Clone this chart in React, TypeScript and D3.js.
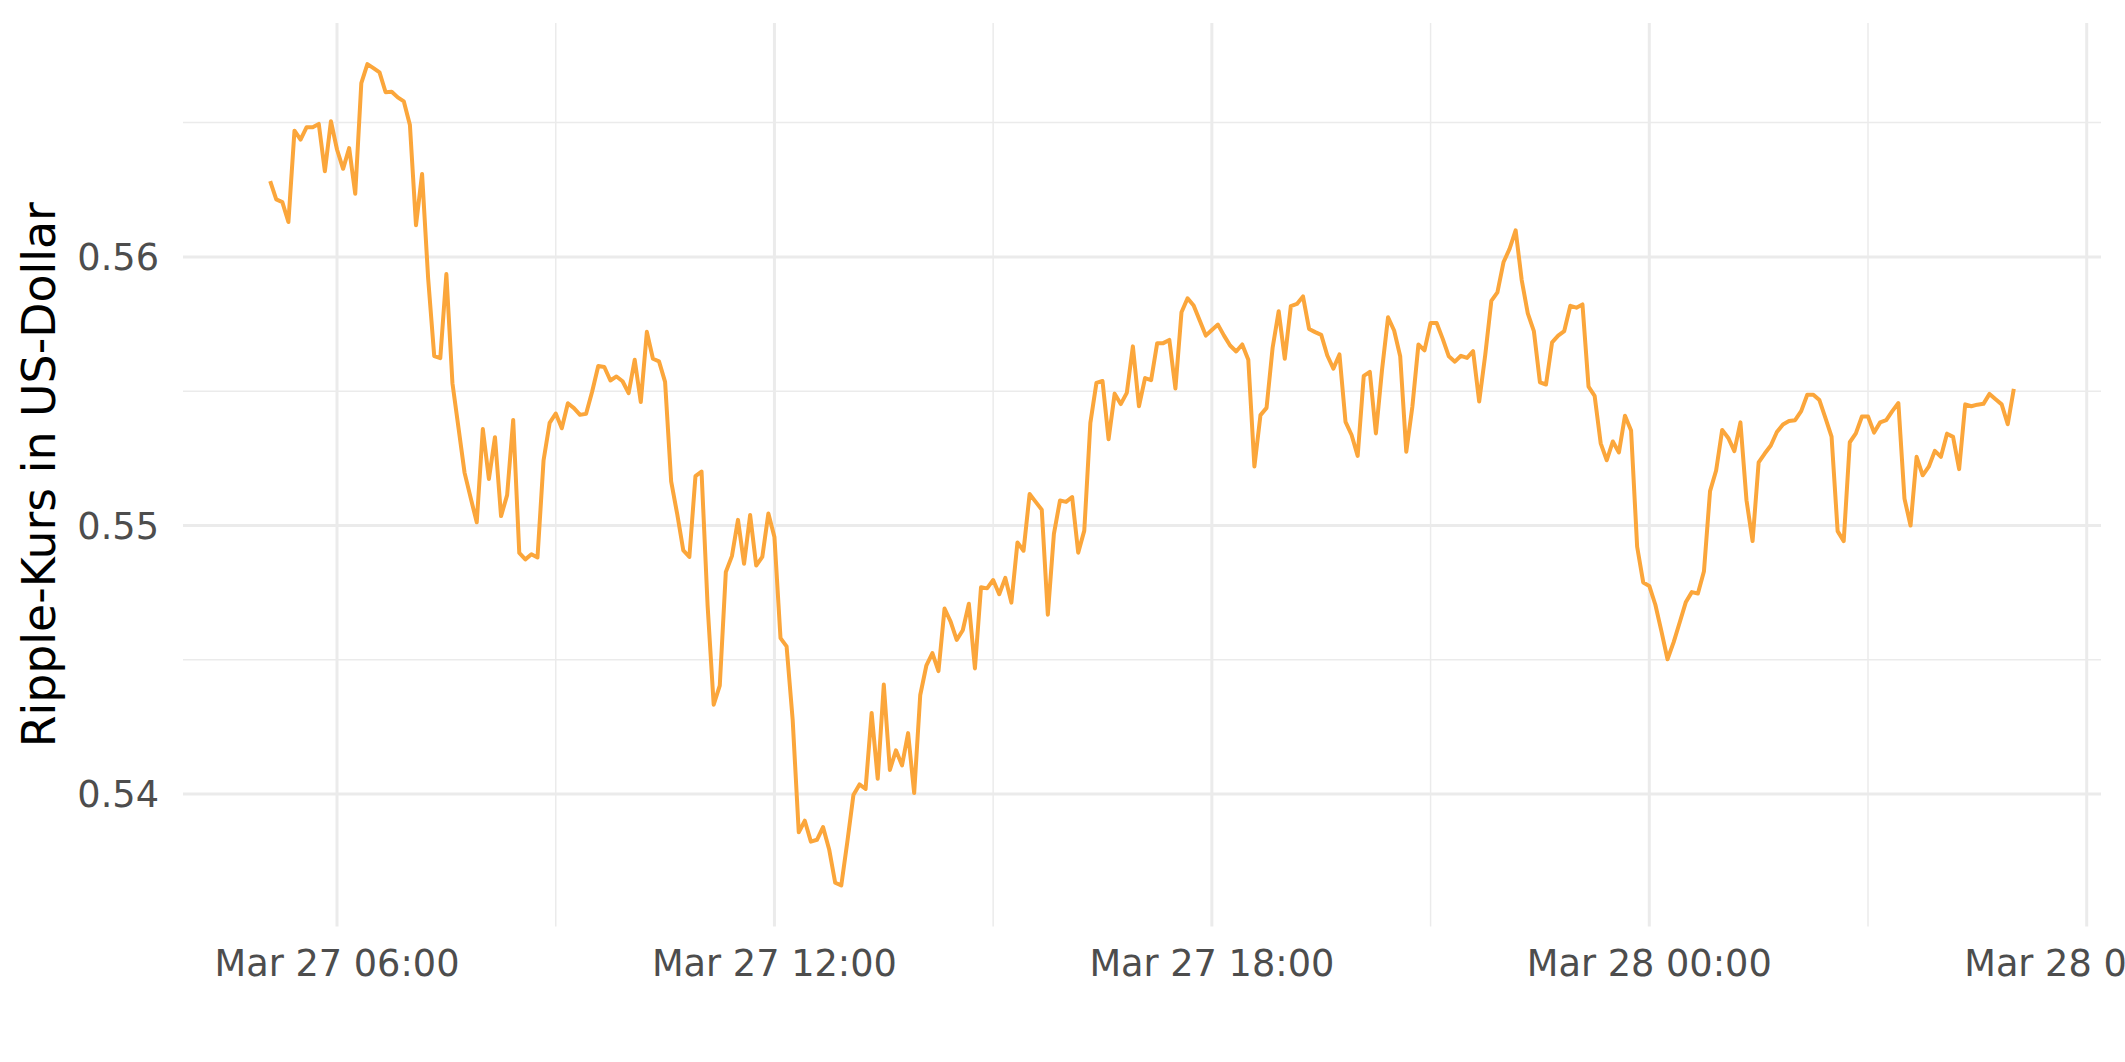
import React from "react";
import * as d3 from "d3";

// Time grid: 5-minute observations starting Mar 27 05:05 (UTC)
const START_UTC = Date.UTC(2024, 2, 27, 5, 5);
const STEP_MINUTES = 5;

// Ripple price in US-Dollar
const prices: number[] = [
  0.56282, 0.56214, 0.56204, 0.5613, 0.5647, 0.56437, 0.56483, 0.56483, 0.56495, 0.56319,
  0.56505, 0.564, 0.56328, 0.56405, 0.56235, 0.56647, 0.56718, 0.56703, 0.56687, 0.56613,
  0.56615, 0.56594, 0.56579, 0.56491, 0.56118, 0.56309, 0.5592, 0.55631, 0.55623, 0.55936,
  0.5553, 0.55363, 0.55196, 0.55103, 0.55012, 0.55359, 0.55173, 0.55329, 0.55035, 0.55113,
  0.55393, 0.54898, 0.54874, 0.54893, 0.54881, 0.55243, 0.55382, 0.55417, 0.55362, 0.55455,
  0.55437, 0.55412, 0.55416, 0.55499, 0.55594, 0.5559, 0.5554, 0.55555, 0.55537, 0.55493,
  0.55617, 0.5546, 0.55721, 0.55621, 0.55611, 0.55535, 0.55164, 0.55042, 0.54907, 0.54883,
  0.55184, 0.55201, 0.54702, 0.54333, 0.54404, 0.54827, 0.54886, 0.55021, 0.54858, 0.55039,
  0.54851, 0.54883, 0.55045, 0.54957, 0.54581, 0.5455, 0.54277, 0.53858, 0.53901, 0.53823,
  0.5383, 0.53877, 0.53795, 0.5367, 0.5366, 0.53823, 0.53997, 0.54036, 0.54019, 0.54302,
  0.54057, 0.54408, 0.5409, 0.54163, 0.54107, 0.54227, 0.54004, 0.54369, 0.54478, 0.54525,
  0.54458, 0.54691, 0.54642, 0.54574, 0.5461, 0.54709, 0.54468, 0.5477, 0.54766, 0.54797,
  0.54744, 0.54805, 0.54713, 0.54937, 0.54906, 0.55117, 0.55088, 0.55059, 0.54668, 0.54969,
  0.55093, 0.55088, 0.55106, 0.54899, 0.54981, 0.55382, 0.55531, 0.55538, 0.55321, 0.55491,
  0.55452, 0.55494, 0.55667, 0.55444, 0.55549, 0.55541, 0.55679, 0.55679, 0.55691, 0.5551,
  0.55794, 0.55846, 0.55819, 0.55763, 0.55707, 0.55728, 0.55748, 0.55707, 0.5567, 0.55648,
  0.55674, 0.55617, 0.5522, 0.55411, 0.55438, 0.55662, 0.55798, 0.55621, 0.55817, 0.55825,
  0.55853, 0.55732, 0.5572, 0.5571, 0.55633, 0.55584, 0.55637, 0.55386, 0.55337, 0.55259,
  0.55557, 0.55572, 0.55343, 0.55578, 0.55775, 0.55726, 0.5563, 0.55275, 0.55442, 0.55674,
  0.55652, 0.55754, 0.55754, 0.55695, 0.5563, 0.5561, 0.55632, 0.55624, 0.55649, 0.55462,
  0.55636, 0.55836, 0.55868, 0.5598, 0.5603, 0.56099, 0.55914, 0.5579, 0.55724, 0.55533,
  0.55525, 0.55682, 0.55707, 0.55724, 0.55818, 0.55811, 0.55823, 0.55517, 0.55483, 0.55306,
  0.55243, 0.55313, 0.55272, 0.55409, 0.55354, 0.54921, 0.54788, 0.54775, 0.54705, 0.54606,
  0.54502, 0.54565, 0.54639, 0.54714, 0.54752, 0.54747, 0.5483, 0.55128, 0.55205, 0.55356,
  0.55326, 0.55277, 0.55384, 0.55094, 0.54942, 0.55235, 0.55268, 0.55298, 0.55348, 0.55376,
  0.55389, 0.55392, 0.55426, 0.55487, 0.55487, 0.55467, 0.554, 0.55331, 0.54979, 0.54942,
  0.5531, 0.55343, 0.55406, 0.55406, 0.55346, 0.55384, 0.55392, 0.55426, 0.55456, 0.551,
  0.55, 0.55256, 0.55187, 0.55219, 0.55278, 0.55256, 0.55342, 0.5533, 0.5521, 0.55451,
  0.55444, 0.5545, 0.55453, 0.5549, 0.5547, 0.55451, 0.55377, 0.55509,
];

const yMajorTicks = [0.54, 0.55, 0.56];
const yMinorTicks = [0.545, 0.555, 0.565];
const yTitle = "Ripple-Kurs in US-Dollar";

const W = 2125;
const H = 1062;
const PANEL = { left: 183, right: 2101, top: 23, bottom: 926.5 };
const FONT = "'DejaVu Sans', 'Liberation Sans', sans-serif";
const GRID = "#EBEBEB";
const LINE_COLOR = "#FBA63B";

type Pt = { t: Date; v: number };

export default function App() {
  const data: Pt[] = prices.map((v, i) => ({
    t: new Date(START_UTC + i * STEP_MINUTES * 60000),
    v,
  }));

  const tExt = d3.extent(data, (d) => d.t.getTime()) as [number, number];
  const tPad = (tExt[1] - tExt[0]) * 0.05;
  const x = d3
    .scaleUtc()
    .domain([new Date(tExt[0] - tPad), new Date(tExt[1] + tPad)])
    .range([PANEL.left, PANEL.right]);

  const vExt = d3.extent(data, (d) => d.v) as [number, number];
  const vPad = (vExt[1] - vExt[0]) * 0.05;
  const y = d3
    .scaleLinear()
    .domain([vExt[0] - vPad, vExt[1] + vPad])
    .range([PANEL.bottom, PANEL.top]);

  const [d0, d1] = x.domain();
  const xMajor = d3.utcHour.every(6)!.range(d0, d1);
  const xMinor = d3.utcHour
    .every(3)!
    .range(d0, d1)
    .filter((d) => d.getUTCHours() % 6 === 3);
  const fmt = d3.utcFormat("%b %d %H:%M");

  const line = d3
    .line<Pt>()
    .x((d) => x(d.t))
    .y((d) => y(d.v));

  return (
    <svg
      width={W}
      height={H}
      viewBox={`0 0 ${W} ${H}`}
      style={{ position: "absolute", left: 0, top: 0, background: "#fff" }}
    >
      <rect x={0} y={0} width={W} height={H} fill="#fff" />
      {/* minor grid */}
      {yMinorTicks.map((v) => (
        <line key={"ym" + v} x1={PANEL.left} x2={PANEL.right} y1={y(v)} y2={y(v)} stroke={GRID} strokeWidth={1.5} />
      ))}
      {xMinor.map((d) => (
        <line key={"xm" + d.getTime()} x1={x(d)} x2={x(d)} y1={PANEL.top} y2={PANEL.bottom} stroke={GRID} strokeWidth={1.5} />
      ))}
      {/* major grid */}
      {yMajorTicks.map((v) => (
        <line key={"yM" + v} x1={PANEL.left} x2={PANEL.right} y1={y(v)} y2={y(v)} stroke={GRID} strokeWidth={3} />
      ))}
      {xMajor.map((d) => (
        <line key={"xM" + d.getTime()} x1={x(d)} x2={x(d)} y1={PANEL.top} y2={PANEL.bottom} stroke={GRID} strokeWidth={3} />
      ))}
      {/* price line */}
      <path
        d={line(data) || ""}
        fill="none"
        stroke={LINE_COLOR}
        strokeWidth={4}
        strokeLinejoin="round"
        strokeLinecap="butt"
      />
      {/* y tick labels */}
      {yMajorTicks.map((v) => (
        <text
          key={"yl" + v}
          x={159}
          y={y(v) + 13.3}
          textAnchor="end"
          fontFamily={FONT}
          fontSize={36.7}
          fill="#4D4D4D"
        >
          {d3.format(".2f")(v)}
        </text>
      ))}
      {/* x tick labels */}
      {xMajor.map((d) => (
        <text
          key={"xl" + d.getTime()}
          x={x(d)}
          y={976}
          textAnchor="middle"
          fontFamily={FONT}
          fontSize={36.7}
          fill="#4D4D4D"
        >
          {fmt(d)}
        </text>
      ))}
      {/* y axis title */}
      <text
        transform={`translate(55, ${(PANEL.top + PANEL.bottom) / 2}) rotate(-90)`}
        textAnchor="middle"
        fontFamily={FONT}
        fontSize={45.8}
        fill="#000"
      >
        {yTitle}
      </text>
    </svg>
  );
}
